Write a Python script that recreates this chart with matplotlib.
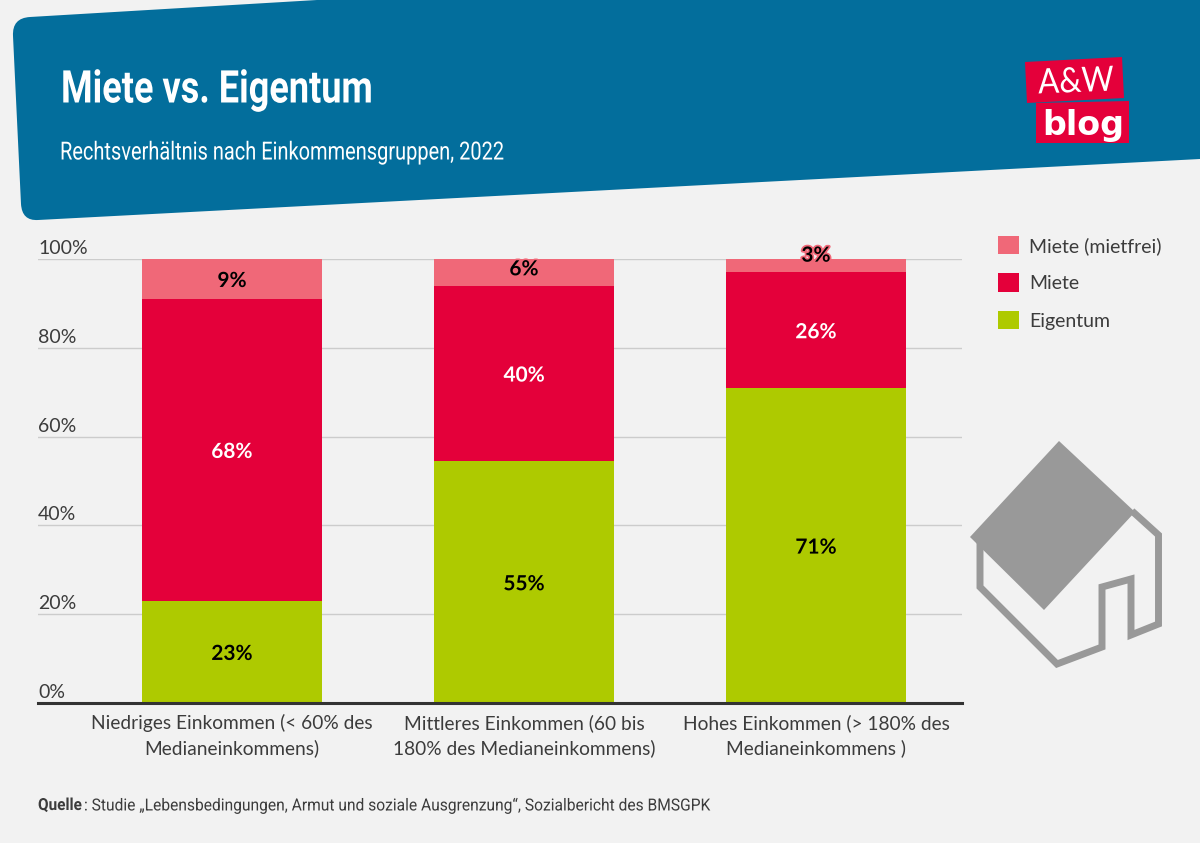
import matplotlib
matplotlib.use("Agg")
import matplotlib.pyplot as plt
import matplotlib.patheffects as pe
from matplotlib.patches import PathPatch, Polygon
from matplotlib.path import Path
from matplotlib.transforms import Affine2D, ScaledTranslation

categories = [
    "Niedriges Einkommen (< 60% des\nMedianeinkommens)",
    "Mittleres Einkommen (60 bis\n180% des Medianeinkommens)",
    "Hohes Einkommen (> 180% des\nMedianeinkommens )",
]
eigentum = [23, 54.4, 70.9]
miete = [68, 39.6, 26.1]
mietfrei = [9, 6, 3]
eigentum_labels = ["23%", "55%", "71%"]
miete_labels = ["68%", "40%", "26%"]
mietfrei_labels = ["9%", "6%", "3%"]
y_ticks = [0, 20, 40, 60, 80, 100]
y_tick_labels = ["0%", "20%", "40%", "60%", "80%", "100%"]

BG = "#F2F2F2"
BLUE = "#036E9C"
RED = "#E4003A"
PINK = "#F06878"
GREEN = "#AECA00"
GREY = "#999999"
TEXT = "#3C3C3C"

NARROW = ["Roboto", "DejaVu Sans"]
BODY = ["Lato", "DejaVu Sans"]


class Squeeze(pe.AbstractPathEffect):
    # no condensed font installed, so narrow the glyphs around a pixel x
    def __init__(self, x_px, sx):
        super().__init__()
        self.x_px = x_px
        self.sx = sx

    def draw_path(self, renderer, gc, tpath, affine, rgbFace=None):
        squeezed = affine + Affine2D().translate(-self.x_px, 0).scale(self.sx, 1).translate(self.x_px, 0)
        renderer.draw_path(gc, tpath, squeezed, rgbFace)


W, H = 1200, 843
fig = plt.figure(figsize=(W / 100, H / 100), dpi=100, facecolor=BG)

# overlay in pixel coordinates for the header, logo and house icon
deco = fig.add_axes([0, 0, 1, 1], zorder=0)
deco.set_xlim(0, W)
deco.set_ylim(H, 0)
deco.axis("off")

header = Path(
    [(30, 17), (317, 0), (1200, 0), (1200, 159), (38, 220), (22, 221), (21, 204),
     (13, 36), (12, 18), (30, 17)],
    [Path.MOVETO, Path.LINETO, Path.LINETO, Path.LINETO, Path.LINETO, Path.CURVE3, Path.CURVE3,
     Path.LINETO, Path.CURVE3, Path.CURVE3],
)
deco.add_patch(PathPatch(header, fc=BLUE, ec="none"))
deco.text(61, 86, "Miete vs. Eigentum", color="white", fontsize=32.5, fontweight="bold",
          family=NARROW, va="center_baseline", path_effects=[Squeeze(61, 0.80)])
deco.text(60, 150, "Rechtsverhältnis nach Einkommensgruppen, 2022", color="white", fontsize=18,
          family=NARROW, va="center_baseline", path_effects=[Squeeze(60, 0.80)])

# logo
deco.add_patch(Polygon([(1025, 62), (1122, 57), (1124, 98), (1027, 103)], fc=RED, ec="none"))
deco.add_patch(Polygon([(1036, 103), (1129, 101), (1129, 143), (1036, 143)], fc=RED, ec="none"))
deco.text(1076, 82, "A&W", color="white", fontsize=25, family=BODY,
          ha="center", va="center", rotation=2, path_effects=[Squeeze(1076, 0.9)])
deco.text(1083.5, 122, "blog", color="white", fontsize=24, family="DejaVu Sans", fontweight="bold",
          ha="center", va="center_baseline")

# house icon
walls = [(980, 543), (980, 587), (1057, 664), (1102, 647), (1102, 587), (1131, 579),
         (1131, 635), (1158.5, 624), (1158.5, 535), (1132, 511)]
deco.add_patch(Polygon(walls, closed=False, fc="none", ec=GREY, lw=5, joinstyle="miter"))
deco.add_patch(Polygon([(1059, 441), (1135, 512), (1044, 610), (970, 537)], fc=GREY, ec="none"))

# chart axes: left edge 38 so the grid runs under the y labels
x0, x1 = 38, 962
y0, y1 = 703, 259
ax = fig.add_axes([x0 / W, 1 - y0 / H, (x1 - x0) / W, (y0 - y1) / H], zorder=1)
ax.patch.set_visible(False)
ax.set_xlim(-0.5 - 48 / 292, 2.5)
ax.set_ylim(0, 100)

pos = list(range(len(categories)))
bar_w = 179.5 / 292
b1 = ax.bar(pos, eigentum, bar_w, color=GREEN, label="Eigentum", zorder=2)
b2 = ax.bar(pos, miete, bar_w, bottom=eigentum, color=RED, label="Miete", zorder=2)
tops = [a + b for a, b in zip(eigentum, miete)]
b3 = ax.bar(pos, mietfrei, bar_w, bottom=tops, color=PINK, label="Miete (mietfrei)", zorder=2)

ax.set_yticks(y_ticks)
ax.set_yticklabels(y_tick_labels, fontsize=14, color=TEXT, family=BODY)
ax.tick_params(axis="y", length=0, pad=0)
lift = ScaledTranslation(0, 2 / 100, fig.dpi_scale_trans)
for lab in ax.get_yticklabels():
    lab.set_ha("left")
    lab.set_va("bottom")
    lab.set_transform(lab.get_transform() + lift)
ax.yaxis.grid(True, color="#CCCCCC", lw=1, zorder=1)
ax.set_axisbelow(True)

ax.set_xticks(pos)
ax.set_xticklabels(categories, fontsize=13.8, color=TEXT, family=BODY, linespacing=1.5)
ax.tick_params(axis="x", length=0, pad=8)

for side in ["top", "left", "right"]:
    ax.spines[side].set_visible(False)
ax.spines["bottom"].set_color("#333333")
ax.spines["bottom"].set_linewidth(2.2)


def put_labels(labels, bottoms, heights, color, stroke, nudges=(0, 0, 0)):
    for i, lab in enumerate(labels):
        ax.annotate(lab, (i, bottoms[i] + heights[i] / 2), xytext=(0, nudges[i] - 2),
                    textcoords="offset pixels", ha="center", va="center",
                    color=color, fontsize=15, fontweight="bold", family=BODY, zorder=5,
                    path_effects=[pe.withStroke(linewidth=2.5, foreground=stroke)])


put_labels(eigentum_labels, [0, 0, 0], eigentum, "black", GREEN)
put_labels(miete_labels, eigentum, miete, "white", RED)
put_labels(mietfrei_labels, tops, mietfrei, "black", PINK, nudges=(0, 5, 12))

leg = fig.legend(handles=[b3, b2, b1], loc="upper left", bbox_to_anchor=(990 / W, 1 - 228 / H),
                 frameon=False, labelcolor=TEXT, prop={"family": BODY, "size": 14},
                 handlelength=1.1, handleheight=1.1, handletextpad=0.5, labelspacing=0.95,
                 borderpad=0.4, borderaxespad=0)

# source line, bold part first then the rest placed after it
deco.text(38, 804, "Quelle", color=TEXT, fontsize=12, fontweight="bold", family=NARROW,
          va="center_baseline", path_effects=[Squeeze(38, 0.92)])
deco.text(84, 804, ": Studie „Lebensbedingungen, Armut und soziale Ausgrenzung“, Sozialbericht des BMSGPK",
          color=TEXT, fontsize=12, family=NARROW, va="center_baseline", path_effects=[Squeeze(84, 0.935)])

fig.savefig("out.png", dpi=100, facecolor=BG)
